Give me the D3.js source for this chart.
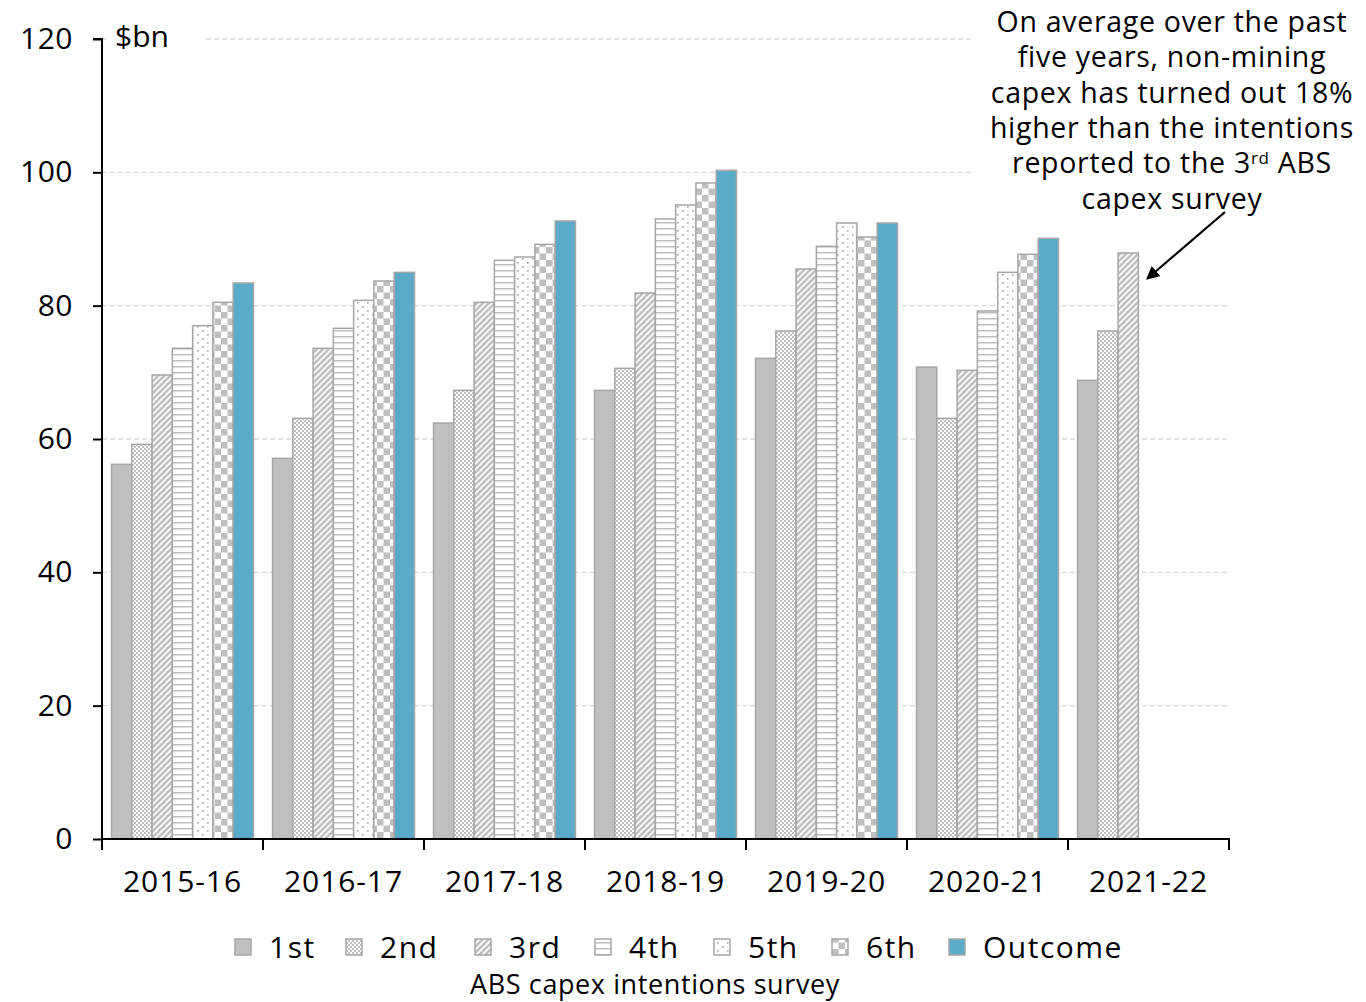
<!DOCTYPE html>
<html><head><meta charset="utf-8">
<script src="https://cdn.jsdelivr.net/npm/d3@7"></script>
<style>
html,body{margin:0;padding:0;background:#fff;}
svg text{font-family:"Open Sans",sans-serif;fill:#000;}
</style></head>
<body>
<svg id="c" width="1366" height="1002"></svg>
<script>
const categories = ["2015-16","2016-17","2017-18","2018-19","2019-20","2020-21","2021-22"];
const seriesNames = ["1st","2nd","3rd","4th","5th","6th","Outcome"];
const s1st     = [56.2, 57.1, 62.4, 67.3, 72.1, 70.8, 68.8];
const s2nd     = [59.2, 63.1, 67.3, 70.6, 76.2, 63.1, 76.2];
const s3rd     = [69.6, 73.6, 80.5, 81.9, 85.5, 70.3, 87.9];
const s4th     = [73.6, 76.6, 86.8, 93.0, 88.9, 79.2, null];
const s5th     = [77.0, 80.8, 87.3, 95.1, 92.4, 85.0, null];
const s6th     = [80.5, 83.7, 89.2, 98.4, 90.3, 87.7, null];
const sOutcome = [83.4, 85.0, 92.7, 100.3, 92.4, 90.1, null];
const yTicks = [0,20,40,60,80,100,120];
const annotationLines = ["On average over the past","five years, non-mining","capex has turned out 18%","higher than the intentions","reported to the 3|rd| ABS","capex survey"];

const seriesValues = [s1st,s2nd,s3rd,s4th,s5th,s6th,sOutcome];
const svg = d3.select("#c");
const defs = svg.append("defs");
const G = "#bfbfbf";

// patterns
function pat(id,w,h,fn){const p=defs.append("pattern").attr("id",id).attr("patternUnits","userSpaceOnUse").attr("width",w).attr("height",h);p.append("rect").attr("width",w).attr("height",h).attr("fill","#fff");fn(p);}
pat("p2",4,4,p=>{p.append("rect").attr("width",2).attr("height",2).attr("fill",G);p.append("rect").attr("x",2).attr("y",2).attr("width",2).attr("height",2).attr("fill",G);});
pat("p3",6,6,p=>{p.append("path").attr("d","M-1,7 L7,-1 M-4,4 L4,-4 M2,10 L10,2").attr("stroke",G).attr("stroke-width",2.6);});
pat("p4",6,6,p=>{p.append("rect").attr("y",0).attr("width",6).attr("height",1.5).attr("fill",G);});
pat("p5",10,8,p=>{p.append("rect").attr("x",2).attr("y",2).attr("width",1.6).attr("height",1.6).attr("fill","#a0a0a0");p.append("rect").attr("x",7).attr("y",6).attr("width",1.6).attr("height",1.6).attr("fill","#a0a0a0");});
pat("p6",13,13,p=>{p.append("rect").attr("width",6.5).attr("height",6.5).attr("fill",G);p.append("rect").attr("x",6.5).attr("y",6.5).attr("width",6.5).attr("height",6.5).attr("fill",G);});
const fills = [G,"url(#p2)","url(#p3)","url(#p4)","url(#p5)","url(#p6)","#5aabc9"];

const x0 = d3.scaleBand().domain(categories).range([102,1229]).padding(0);
const x1 = d3.scaleBand().domain(seriesNames).range([0,x0.bandwidth()]).paddingInner(0).paddingOuter(0.47);
const y = d3.scaleLinear().domain([0,120]).range([839,39]);

// gridlines
svg.append("g").selectAll("line").data(yTicks.filter(d=>d>0)).join("line")
  .attr("x1",102).attr("x2",1229).attr("y1",d=>y(d)).attr("y2",d=>y(d))
  .attr("stroke","#d9d9d9").attr("stroke-width",1.3).attr("stroke-dasharray","5,3");

// bars
const gBars = svg.append("g");
categories.forEach((c,ci)=>{
  seriesNames.forEach((s,si)=>{
    const v = seriesValues[si][ci];
    if(v==null) return;
    gBars.append("rect").attr("x",x0(c)+x1(s)).attr("width",x1.bandwidth())
      .attr("y",y(v)).attr("height",y(0)-y(v))
      .attr("fill",fills[si]).attr("stroke","#a6a6a6").attr("stroke-width",1.5);
  });
});

// white boxes behind $bn and annotation
svg.append("rect").attr("x",106).attr("y",20).attr("width",98).attr("height",38).attr("fill","#fff");
svg.append("rect").attr("x",974).attr("y",0).attr("width",392).attr("height",212).attr("fill","#fff");

// axes
const yAxis = d3.axisLeft(y).tickValues(yTicks).tickSize(9).tickPadding(20);
const gy = svg.append("g").attr("transform","translate(102,0)").call(yAxis);
gy.select(".domain").attr("stroke","#000").attr("stroke-width",2).attr("d","M-9,39H0V839");
gy.selectAll(".tick line").attr("stroke","#000").attr("stroke-width",2);
gy.selectAll(".tick text").attr("font-size",30).attr("font-family","Open Sans").attr("fill","#000").attr("letter-spacing",0.5);

const gx = svg.append("g").attr("transform","translate(0,839)");
gx.append("line").attr("x1",101).attr("x2",1230).attr("y1",0).attr("y2",0).attr("stroke","#000").attr("stroke-width",2);
const bounds = categories.map(c=>x0(c)).concat([x0.range()[1]]);
gx.selectAll("line.t").data(bounds).join("line").attr("class","t").attr("x1",d=>d).attr("x2",d=>d).attr("y1",0).attr("y2",11).attr("stroke","#000").attr("stroke-width",2);
gx.selectAll("text").data(categories).join("text").attr("x",d=>x0(d)+x0.bandwidth()/2).attr("y",53)
  .attr("text-anchor","middle").attr("font-size",30).attr("letter-spacing",0.9).text(d=>d);

svg.append("text").attr("x",115).attr("y",47).attr("font-size",30).text("$bn");

// annotation
const ann = svg.append("text").attr("font-size",28.5).attr("text-anchor","middle").attr("letter-spacing",0.7);
annotationLines.forEach((l,i)=>{
  const t = ann.append("tspan").attr("x",1172).attr("y",32+i*35.3);
  const parts = l.split("|");
  parts.forEach((p,pi)=>{
    const ts = t.append("tspan").text(p);
    if(pi===1){ts.attr("font-size",17).attr("dy",-9);}
    if(pi===2){ts.attr("dy",9);}
  });
});
// arrow
defs.append("marker").attr("id","ah").attr("viewBox","0 0 10 10").attr("refX",8).attr("refY",5)
  .attr("markerWidth",6).attr("markerHeight",6).attr("orient","auto")
  .append("path").attr("d","M0,0L10,5L0,10z").attr("fill","#000");
svg.append("line").attr("x1",1225).attr("y1",212).attr("x2",1148).attr("y2",278)
  .attr("stroke","#000").attr("stroke-width",2.2).attr("marker-end","url(#ah)");

// legend
const legX = [234,345,474,594,713,831,948];
const lg = svg.append("g");
seriesNames.forEach((s,i)=>{
  lg.append("rect").attr("x",legX[i]+1).attr("y",939).attr("width",16).attr("height",16)
    .attr("fill",fills[i]).attr("stroke","#a6a6a6").attr("stroke-width",1.5);
  lg.append("text").attr("x",legX[i]+35).attr("y",958).attr("font-size",30).attr("letter-spacing",1.5).text(s);
});
svg.append("text").attr("x",655).attr("y",994).attr("text-anchor","middle").attr("font-size",27).attr("letter-spacing",0.6).text("ABS capex intentions survey");
</script>
</body></html>
